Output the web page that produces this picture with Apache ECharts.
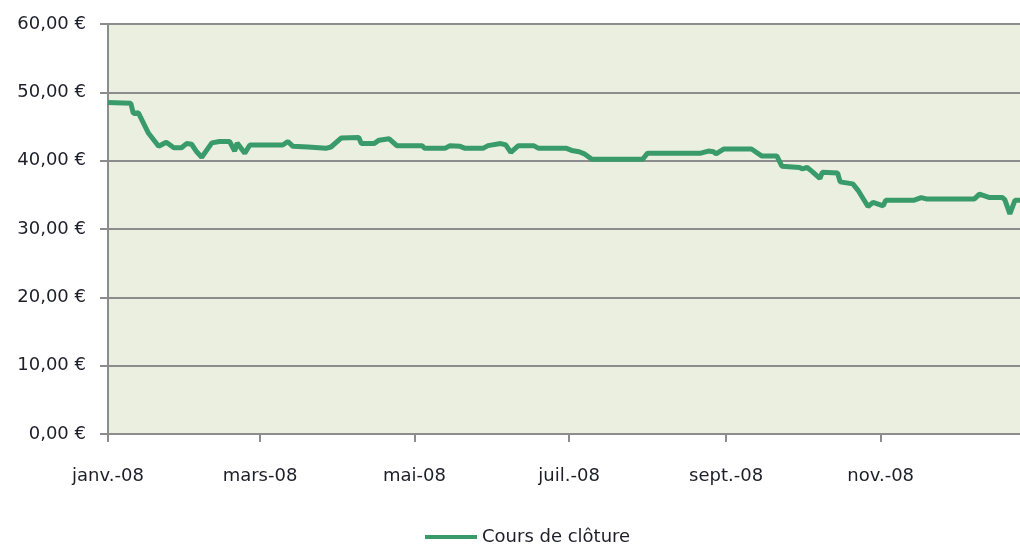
<!DOCTYPE html>
<html>
<head>
<meta charset="utf-8">
<script src="https://cdn.jsdelivr.net/npm/echarts@6/dist/echarts.min.js"></script>
<style>
  html, body { margin: 0; padding: 0; background: #fff; }
  #main { width: 1020px; height: 545px; }
</style>
</head>
<body>
<div id="main"></div>
<script>
// cours de clôture 2008
const dates = [
  '2008-01-01', '2008-01-10', '2008-01-11', '2008-01-13', '2008-01-15', '2008-01-17', '2008-01-21',
  '2008-01-24', '2008-01-27', '2008-01-30', '2008-02-01', '2008-02-03', '2008-02-05', '2008-02-07',
  '2008-02-11', '2008-02-14', '2008-02-18', '2008-02-20', '2008-02-21', '2008-02-24', '2008-02-26',
  '2008-03-01', '2008-03-10', '2008-03-12', '2008-03-14', '2008-03-20', '2008-03-27', '2008-03-29',
  '2008-04-02', '2008-04-09', '2008-04-10', '2008-04-15', '2008-04-17', '2008-04-21', '2008-04-24',
  '2008-05-04', '2008-05-05', '2008-05-13', '2008-05-15', '2008-05-19', '2008-05-21', '2008-05-28',
  '2008-05-30', '2008-06-04', '2008-06-06', '2008-06-08', '2008-06-11', '2008-06-17', '2008-06-19',
  '2008-06-30', '2008-07-02', '2008-07-05', '2008-07-07', '2008-07-10', '2008-07-30', '2008-08-01',
  '2008-08-22', '2008-08-25', '2008-08-27', '2008-08-28', '2008-08-31', '2008-09-11', '2008-09-15',
  '2008-09-21', '2008-09-23', '2008-09-30', '2008-10-01', '2008-10-03', '2008-10-05', '2008-10-08',
  '2008-10-09', '2008-10-15', '2008-10-16', '2008-10-21', '2008-10-23', '2008-10-27', '2008-10-29',
  '2008-11-02', '2008-11-03', '2008-11-14', '2008-11-17', '2008-11-19', '2008-12-08', '2008-12-10',
  '2008-12-14', '2008-12-19', '2008-12-20', '2008-12-22', '2008-12-24', '2008-12-26'
];
const closes = [
  48.5, 48.4, 46.9, 47.0, 45.5, 44.0, 42.1,
  42.7, 41.9, 41.9, 42.5, 42.4, 41.3, 40.5,
  42.6, 42.8, 42.8, 41.4, 42.6, 41.1, 42.3,
  42.3, 42.3, 42.8, 42.1, 42.0, 41.8, 42.0,
  43.3, 43.4, 42.5, 42.5, 43.0, 43.2, 42.2,
  42.2, 41.8, 41.8, 42.2, 42.1, 41.8, 41.8,
  42.2, 42.5, 42.3, 41.2, 42.2, 42.2, 41.8,
  41.8, 41.5, 41.3, 41.0, 40.2, 40.2, 41.1,
  41.1, 41.4, 41.3, 41.0, 41.7, 41.7, 40.7,
  40.7, 39.2, 39.0, 38.8, 39.0, 38.4, 37.4,
  38.3, 38.2, 36.9, 36.6, 35.7, 33.3, 33.9,
  33.4, 34.2, 34.2, 34.6, 34.4, 34.4, 35.1,
  34.6, 34.6, 34.3, 32.2, 34.2, 34.2
];
const tickDates = ['2008-01-01', '2008-03-01', '2008-05-01', '2008-07-01', '2008-09-01', '2008-11-01'];
const tickLabels = ['janv.-08', 'mars-08', 'mai-08', 'juil.-08', 'sept.-08', 'nov.-08'];
const yTicks = [0, 10, 20, 30, 40, 50, 60];

const toTime = s => new Date(s + 'T00:00:00').getTime();
const tickTimes = tickDates.map(toTime);
const seriesData = dates.map((d, i) => [toTime(d), closes[i]]);

const font = 'DejaVu Sans';
const gridGrey = '#8c8c8c';

let myChart = echarts.init(document.getElementById('main'));

let option = {
  animation: false,
  textStyle: { fontFamily: font },
  grid: {
    left: 108, right: 0, top: 24, bottom: 111,
    show: true, backgroundColor: '#ebefdf', borderWidth: 0
  },
  legend: {
    left: 420, top: 523,
    icon: 'rect', itemWidth: 52, itemHeight: 4,
    textStyle: { fontFamily: font, fontSize: 18, color: '#1e1e2a' },
    data: ['Cours de clôture']
  },
  xAxis: {
    type: 'value',
    min: toTime('2008-01-01'),
    max: toTime('2008-12-26'),
    axisLine: { show: true, lineStyle: { color: gridGrey, width: 2 } },
    axisTick: { show: true, length: 8, lineStyle: { color: gridGrey, width: 2 }, customValues: tickTimes },
    axisLabel: {
      customValues: tickTimes,
      margin: 33,
      fontFamily: font, fontSize: 18, color: '#1e1e2a',
      formatter: v => {
        const i = tickTimes.indexOf(v);
        return i >= 0 ? tickLabels[i] : '';
      }
    },
    splitLine: { show: false }
  },
  yAxis: {
    type: 'value',
    min: 0, max: 60, interval: 10,
    axisLine: { show: true, lineStyle: { color: gridGrey, width: 2 } },
    axisTick: { show: true, length: 8, lineStyle: { color: gridGrey, width: 2 } },
    axisLabel: {
      margin: 22,
      fontFamily: font, fontSize: 18, color: '#1e1e2a',
      formatter: v => yTicks.includes(v) ? v.toFixed(2).replace('.', ',') + '\u00a0€' : ''
    },
    splitLine: { show: true, lineStyle: { color: gridGrey, width: 2 } }
  },
  series: [
    {
      name: 'Cours de clôture',
      type: 'line',
      data: seriesData,
      showSymbol: false,
      symbol: 'none',
      itemStyle: { color: '#389b69' },
      lineStyle: { color: '#389b69', width: 5 }
    }
  ]
};

myChart.setOption(option);
</script>
</body>
</html>
